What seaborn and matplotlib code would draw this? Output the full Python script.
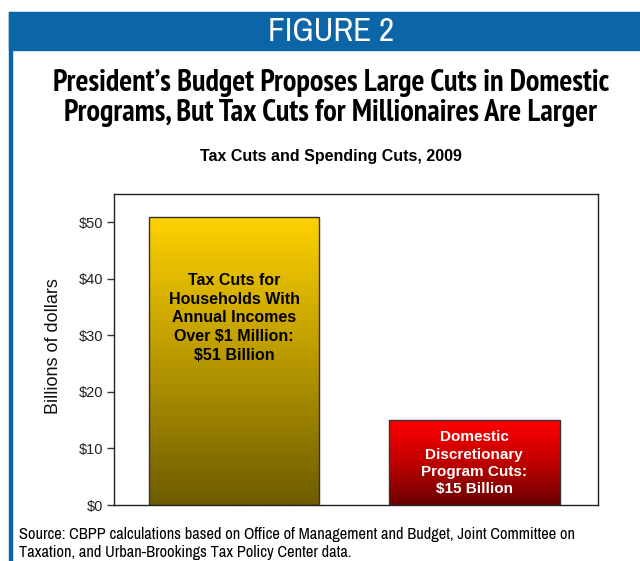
import numpy as np
import pandas as pd
import matplotlib
matplotlib.use("Agg")
import matplotlib.pyplot as plt
import seaborn as sns
from matplotlib.colors import LinearSegmentedColormap
from matplotlib.patches import Rectangle

categories = ["Tax Cuts for Millionaires", "Domestic Discretionary Program Cuts"]
values = [51, 15]
bar_labels = ["Tax Cuts for\nHouseholds With\nAnnual Incomes\nOver $1 Million:\n$51 Billion",
              "Domestic\nDiscretionary\nProgram Cuts:\n$15 Billion"]
yticks = [0, 10, 20, 30, 40, 50]
ytick_labels = ["$0", "$10", "$20", "$30", "$40", "$50"]

sns.set_theme(style="white")
plt.rcParams['font.family'] = ['Liberation Sans', 'DejaVu Sans']

fig = plt.figure(figsize=(6.4, 5.61), dpi=100)
W, H = 640, 561

def fx(x): return x / W
def fy(y): return 1 - y / H

blue = "#0b65a6"
# header band
fig.patches.append(Rectangle((fx(9), fy(50)), 1 - fx(9), (50 - 12) / H,
                             transform=fig.transFigure, color=blue, zorder=0))
# left border
fig.patches.append(Rectangle((fx(9), 0), 3 / W, fy(12),
                             transform=fig.transFigure, color=blue, zorder=0))

narrow = ['Archivo Narrow', 'Liberation Sans', 'DejaVu Sans']
narrow_bold = ['PT Sans Narrow', 'Archivo Narrow', 'DejaVu Sans']
fig.text(fx(331), fy(32), "FIGURE 2", color="white", fontsize=24,
         family=narrow, ha="center", va="center")
fig.text(fx(331), fy(98), "President\u2019s Budget Proposes Large Cuts in Domestic\nPrograms, But Tax Cuts for Millionaires Are Larger",
         fontsize=21.8, fontweight="bold", family=narrow_bold, ha="center", va="center",
         linespacing=1.12, color="black")
fig.text(fx(331), fy(157), "Tax Cuts and Spending Cuts, 2009", fontsize=11.5,
         fontweight="bold", ha="center", va="center", color="black")
fig.text(fx(19), fy(535), "Source: CBPP calculations based on Office of Management and Budget, Joint Committee on",
         fontsize=11.8, family=narrow, ha="left", va="center", color="black")
fig.text(fx(19), fy(552), "Taxation, and Urban-Brookings Tax Policy Center data.",
         fontsize=11.8, family=narrow, ha="left", va="center", color="black")

ax = fig.add_axes([fx(114), fy(505), (598 - 114) / W, (505 - 194) / H])
df = pd.DataFrame({"category": categories, "value": values})
sns.barplot(data=df, x="category", y="value", ax=ax, width=0.71,
            color="none", edgecolor="#333333", linewidth=1, saturation=1)

cmaps = [LinearSegmentedColormap.from_list("gold", ["#6e5c00", "#b89800", "#ffd200"]),
         LinearSegmentedColormap.from_list("red", ["#6a0000", "#c00000", "#ff0000"])]
grad = np.linspace(0, 1, 256).reshape(-1, 1)
for p, cm in zip(ax.patches, cmaps):
    x0, y0 = p.get_x(), p.get_y()
    w, h = p.get_width(), p.get_height()
    im = ax.imshow(grad, cmap=cm, origin="lower", aspect="auto",
                   extent=[x0, x0 + w, y0, y0 + h], zorder=1)
    im.set_clip_path(p)
    p.set_zorder(2)

ax.set_xlim(-0.5, 1.515)
ax.set_ylim(0, 55)
ax.set_yticks(yticks)
ax.set_yticklabels(ytick_labels, fontsize=10.5, color="#222222")
ax.set_xticks([])
ax.set_xlabel("")
ax.set_ylabel("Billions of dollars", fontsize=13, color="#111111")
ax.yaxis.set_label_coords(-0.107, 0.51)
ax.tick_params(axis="y", left=True, length=5, width=1, color="#333333", pad=3)
for s in ax.spines.values():
    s.set_color("#222222")
    s.set_linewidth(1)

ax.text(0, 33.1, bar_labels[0], ha="center", va="center", fontsize=11.5,
        fontweight="bold", color="black", linespacing=1.3, zorder=3)
ax.text(1, 7.4, bar_labels[1], ha="center", va="center", fontsize=11,
        fontweight="bold", color="white", linespacing=1.3, zorder=3)

fig.savefig("out.png", dpi=100)
